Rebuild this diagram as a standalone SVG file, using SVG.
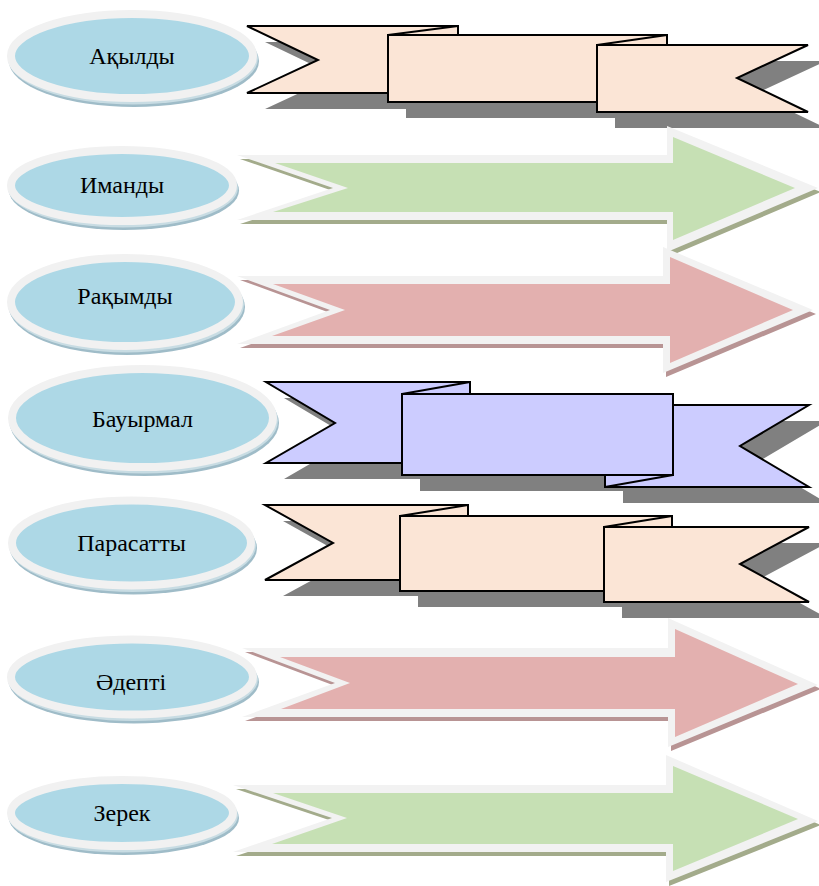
<svg xmlns="http://www.w3.org/2000/svg" width="819" height="886" viewBox="0 0 819 886">
<style>
.bg{fill:#ffffff}
.esh2{fill:#9fbcc8}
.esh1{fill:#c8dce3}
.ell{fill:#add8e6;stroke:#f1f1f1;stroke-width:8}
.lbl{font-family:"Liberation Serif","Times New Roman",serif;font-size:24px;fill:#000;text-anchor:middle}
.rsh{fill:#808080}
.peach{fill:#fbe5d6;stroke:#000;stroke-width:2;stroke-linejoin:miter}
.lav{fill:#ccccff;stroke:#000;stroke-width:2;stroke-linejoin:miter}
.fold{fill:none;stroke:#000;stroke-width:2}
.aout{fill:#f2f2f2}
.green{fill:#c6e0b4}
.pink{fill:#e3b0af}
.gsh{fill:#a3ab8b}
.psh{fill:#b89494}
</style>
<rect class="bg" x="0" y="0" width="819" height="886"/>
<g id="connectors"/>

<!-- Row 1 -->
<g id="ribbon1">
  <g class="rsh" transform="translate(18,16)">
    <polygon points="247,26 458,26 458,93 247,93 318,60"/>
    <rect x="388" y="35" width="279" height="67"/>
    <polygon points="597,45 808,45 737,78 808,112 597,112"/>
  </g>
  <polygon class="peach" points="247,26 458,26 458,93 247,93 318,60"/>
  <rect class="peach" x="388" y="35" width="279" height="67"/>
  <line class="fold" x1="388" y1="35" x2="458" y2="26"/>
  <polygon class="peach" points="597,45 808,45 737,78 808,112 597,112"/>
  <line class="fold" x1="597" y1="45" x2="667" y2="35"/>
</g>
<g id="node1">
  <ellipse class="esh2" cx="134" cy="61" rx="125" ry="46"/>
  <ellipse class="esh1" cx="133" cy="58.5" rx="125" ry="46"/>
  <ellipse class="ell" cx="132" cy="56" rx="121" ry="42"/>
  <text class="lbl" x="132" y="64">Ақылды</text>
</g>

<!-- Row 2 -->
<g id="arrow2">
  <polygon class="gsh" transform="translate(3,4)" points="237,155 667,155 667,126 818,188 667,252 667,220 237,220 333,188"/>
  <polygon class="aout" points="237,155 667,155 667,126 818,188 667,252 667,220 237,220 333,188"/>
  <polygon class="green" points="275,163 673,163 673,137 795,188 673,240 673,212 273,212 348,188"/>
</g>
<g id="node2">
  <ellipse class="esh2" cx="124" cy="190.5" rx="115" ry="39.5"/>
  <ellipse class="esh1" cx="123" cy="188" rx="115" ry="39.5"/>
  <ellipse class="ell" cx="122" cy="185.5" rx="111" ry="35.5"/>
  <text class="lbl" x="122" y="193">Иманды</text>
</g>

<!-- Row 3 -->
<g id="arrow3">
  <polygon class="psh" transform="translate(3,4)" points="237,276 663,276 663,247 813,310 663,373 663,344 237,344 330,310"/>
  <polygon class="aout" points="237,276 663,276 663,247 813,310 663,373 663,344 237,344 330,310"/>
  <polygon class="pink" points="273,284 670,284 670,257 793,310 670,363 670,336 272,336 345,310"/>
</g>
<g id="node3">
  <ellipse class="esh2" cx="127" cy="307" rx="118" ry="48"/>
  <ellipse class="esh1" cx="126" cy="304.5" rx="118" ry="48"/>
  <ellipse class="ell" cx="125" cy="302" rx="114" ry="44"/>
  <text class="lbl" x="125" y="304">Рақымды</text>
</g>

<!-- Row 4 -->
<g id="ribbon4">
  <g class="rsh" transform="translate(18,16)">
    <polygon points="266,382 470,382 470,463 266,463 335,423"/>
    <polygon points="605,405 809,405 740,446 809,487 605,487"/>
    <rect x="402" y="394" width="271" height="81"/>
  </g>
  <polygon class="lav" points="266,382 470,382 470,463 266,463 335,423"/>
  <polygon class="lav" points="605,405 809,405 740,446 809,487 605,487"/>
  <rect class="lav" x="402" y="394" width="271" height="81"/>
  <line class="fold" x1="402" y1="394" x2="470" y2="382"/>
  <line class="fold" x1="605" y1="487" x2="673" y2="475"/>
</g>
<g id="node4">
  <ellipse class="esh2" cx="144.5" cy="423" rx="134.5" ry="53"/>
  <ellipse class="esh1" cx="143.5" cy="420.5" rx="134.5" ry="53"/>
  <ellipse class="ell" cx="142.5" cy="418" rx="130.5" ry="49"/>
  <text class="lbl" x="142.5" y="427">Бауырмал</text>
</g>

<!-- Row 5 -->
<g id="ribbon5">
  <g class="rsh" transform="translate(18,16)">
    <polygon points="265,505 468,505 468,580 265,580 333,543"/>
    <rect x="400" y="516" width="272" height="75"/>
    <polygon points="604,527 809,527 740,564 809,602 604,602"/>
  </g>
  <polygon class="peach" points="265,505 468,505 468,580 265,580 333,543"/>
  <rect class="peach" x="400" y="516" width="272" height="75"/>
  <line class="fold" x1="400" y1="516" x2="468" y2="505"/>
  <polygon class="peach" points="604,527 809,527 740,564 809,602 604,602"/>
  <line class="fold" x1="604" y1="527" x2="672" y2="516"/>
</g>
<g id="node5">
  <ellipse class="esh2" cx="133.5" cy="548" rx="123.5" ry="46.5"/>
  <ellipse class="esh1" cx="132.5" cy="545.5" rx="123.5" ry="46.5"/>
  <ellipse class="ell" cx="131.5" cy="543" rx="119.5" ry="42.5"/>
  <text class="lbl" x="131.5" y="551">Парасатты</text>
</g>

<!-- Row 6 -->
<g id="arrow6">
  <polygon class="psh" transform="translate(3,4)" points="242,648 668,648 668,618 818,685 668,747 668,717 242,717 335,683"/>
  <polygon class="aout" points="242,648 668,648 668,618 818,685 668,747 668,717 242,717 335,683"/>
  <polygon class="pink" points="280,657 675,657 675,629 798,684 675,737 675,709 281,709 350,683"/>
</g>
<g id="node6">
  <ellipse class="esh2" cx="134" cy="682" rx="125" ry="41.5"/>
  <ellipse class="esh1" cx="133" cy="679.5" rx="125" ry="41.5"/>
  <ellipse class="ell" cx="132" cy="677" rx="121" ry="37.5"/>
  <text class="lbl" x="131" y="690">Әдепті</text>
</g>

<!-- Row 7 -->
<g id="arrow7">
  <polygon class="gsh" transform="translate(3,4)" points="233,785 666,785 666,755 818,821 666,882 666,852 233,852 332,818"/>
  <polygon class="aout" points="233,785 666,785 666,755 818,821 666,882 666,852 233,852 332,818"/>
  <polygon class="green" points="273,793 673,793 673,766 798,819 673,871 673,844 272,844 347,818"/>
</g>
<g id="node7">
  <ellipse class="esh2" cx="124" cy="818" rx="115" ry="37"/>
  <ellipse class="esh1" cx="123" cy="815.5" rx="115" ry="37"/>
  <ellipse class="ell" cx="122" cy="813" rx="111" ry="33"/>
  <text class="lbl" x="122" y="821">Зерек</text>
</g>
</svg>
